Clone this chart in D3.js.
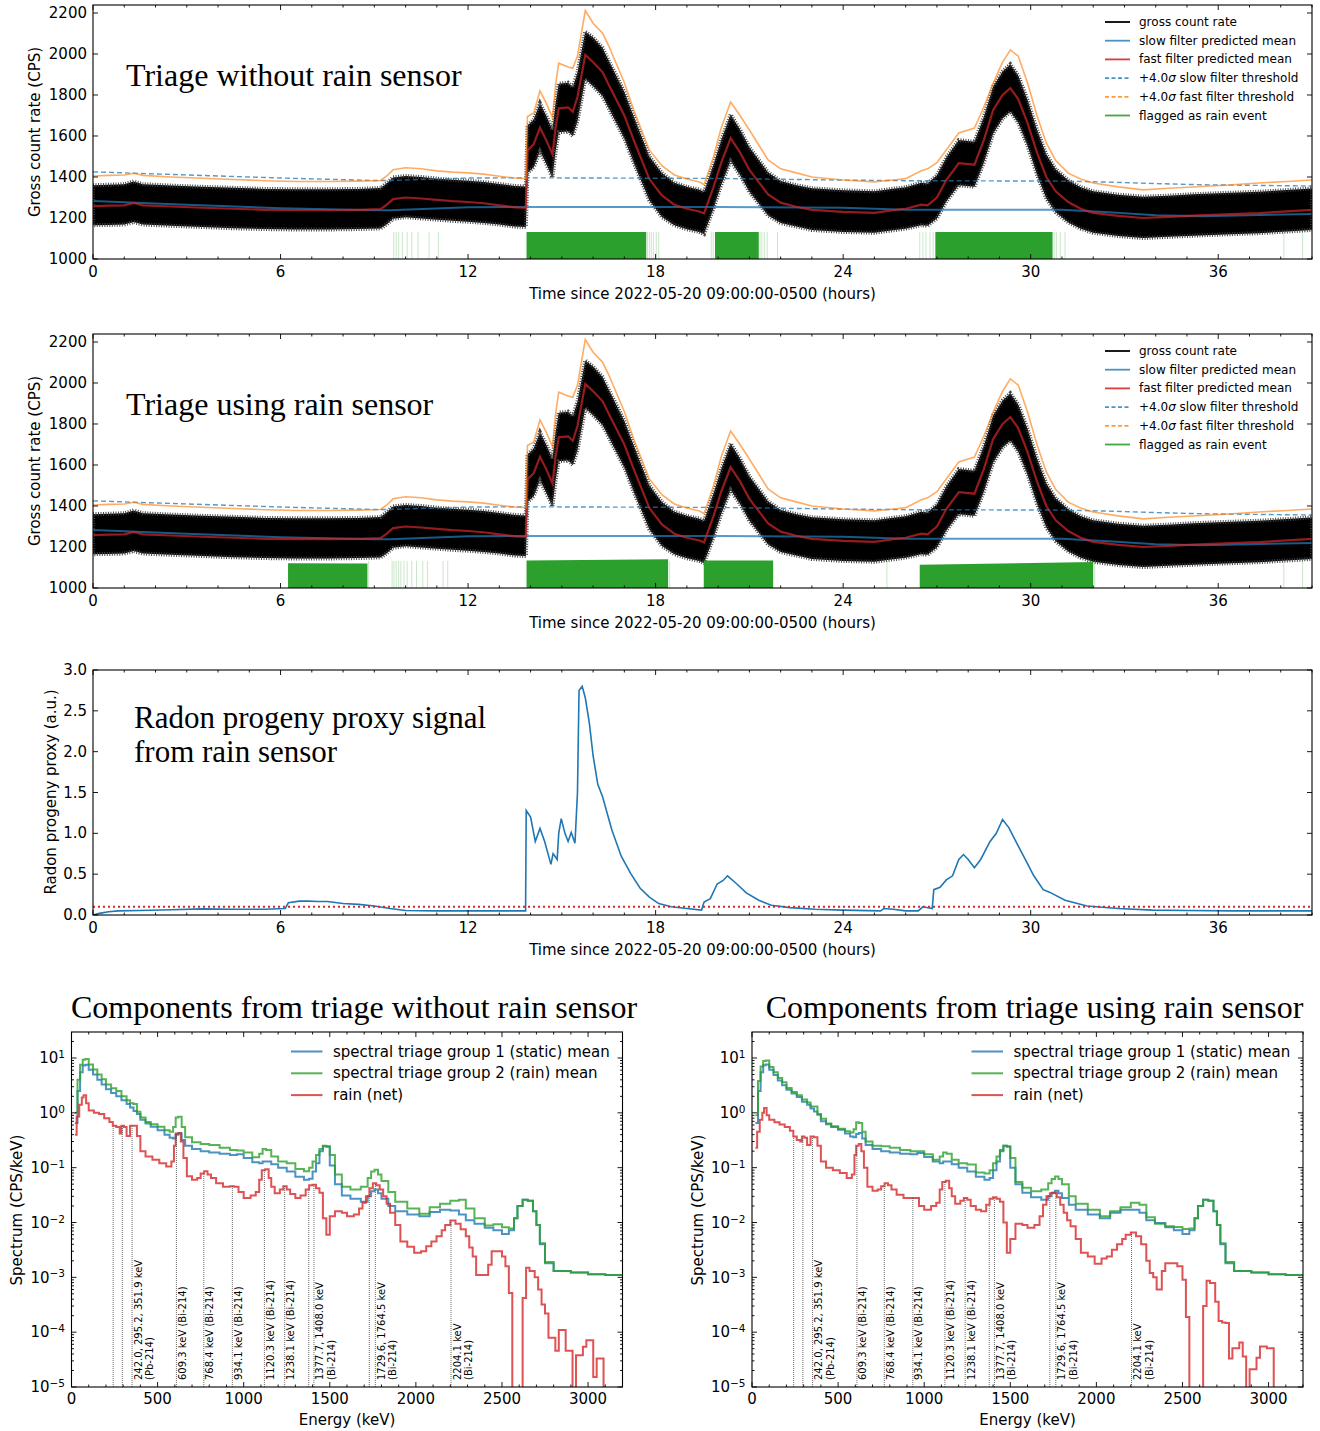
<!DOCTYPE html>
<html>
<head>
<meta charset="utf-8">
<script src="https://cdn.jsdelivr.net/npm/d3@7"></script>
<style>
  body { margin: 0; background: #fff; }
  text { font-family: "DejaVu Sans", sans-serif; fill: #000; }
  text.serif { font-family: "Liberation Serif", "Times New Roman", serif; }
</style>
</head>
<body>
<svg id="chart" width="1320" height="1431"></svg>
<script>
// ---------- time series (hours since 2022-05-20 09:00:00-0500) ----------
const tGrid = [
  0, 0.5, 1.0, 1.3, 1.6, 2.5, 3.5, 4.5, 5.5, 6.5,
  7.5, 8.5, 9.2, 9.4, 9.6, 10.0, 10.5, 11.0, 11.5, 12.0,
  12.5, 13.0, 13.5, 13.85, 13.9, 14.1, 14.3, 14.5, 14.7, 14.8,
  14.9, 15.2, 15.35, 15.5, 15.75, 16.0, 16.3, 16.5, 17.0, 17.3,
  17.8, 18.2, 18.6, 19.0, 19.4, 19.55, 19.85, 20.1, 20.4, 20.7,
  21.0, 21.6, 22.0, 22.5, 23.0, 24.0, 25.0, 25.6, 26.0, 26.5,
  26.7, 27.0, 27.3, 27.7, 28.2, 28.5, 28.8, 29.1, 29.35, 29.6,
  29.9, 30.2, 30.5, 30.8, 31.2, 31.6, 32.0, 32.8, 33.6, 34.4,
  35.2, 36.2, 37.3, 38.2, 39.0
];
const fastMean = [
  1258, 1260, 1262, 1274, 1262, 1256, 1250, 1245, 1240, 1238,
  1238, 1240, 1243, 1265, 1292, 1300, 1295, 1288, 1282, 1278,
  1272, 1262, 1252, 1250, 1530, 1560, 1640, 1580, 1510, 1640,
  1735, 1740, 1718, 1790, 1995, 1960, 1912, 1850, 1700, 1580,
  1390, 1310, 1265, 1245, 1232, 1222, 1350, 1470, 1590, 1520,
  1435, 1315, 1275, 1255, 1240, 1230, 1225, 1238, 1245, 1265,
  1262, 1300, 1385, 1468, 1460, 1580, 1727, 1800, 1834, 1780,
  1663, 1520, 1400, 1330, 1278, 1245, 1225, 1210, 1200, 1205,
  1212, 1218, 1224, 1232, 1240
];
const grossHi = [
  1360, 1362, 1365, 1378, 1365, 1358, 1352, 1347, 1342, 1340,
  1340, 1342, 1346, 1370, 1398, 1405, 1400, 1392, 1386, 1382,
  1375, 1366, 1356, 1354, 1650, 1680, 1760, 1700, 1630, 1760,
  1855, 1860, 1838, 1910, 2110, 2080, 2030, 1968, 1815, 1695,
  1500, 1420, 1372, 1352, 1338, 1328, 1460, 1580, 1705, 1632,
  1545, 1422, 1380, 1360, 1345, 1335, 1330, 1343, 1350, 1372,
  1368, 1408, 1495, 1580, 1572, 1693, 1842, 1915, 1950, 1895,
  1776, 1632, 1510, 1438, 1384, 1350, 1330, 1314, 1304, 1309,
  1316, 1322, 1328, 1336, 1344
];
const grossLo = [
  1165, 1166, 1168, 1180, 1168, 1162, 1156, 1150, 1146, 1144,
  1144, 1146, 1149, 1170, 1196, 1204, 1198, 1192, 1186, 1182,
  1176, 1168, 1158, 1156, 1420, 1448, 1525, 1465, 1398, 1525,
  1618, 1622, 1600, 1672, 1878, 1843, 1795, 1735, 1588, 1470,
  1285, 1205, 1165, 1145, 1132, 1122, 1245, 1362, 1478, 1410,
  1328, 1212, 1175, 1158, 1142, 1132, 1128, 1140, 1148, 1165,
  1162, 1198, 1280, 1360, 1352, 1470, 1612, 1685, 1718, 1665,
  1552, 1412, 1295, 1228, 1178, 1148, 1128, 1112, 1102, 1108,
  1114, 1120, 1126, 1134, 1142
];
const fastThresh = [
  1405, 1408, 1410, 1418, 1408, 1400, 1394, 1388, 1382, 1378,
  1378, 1380, 1383, 1405, 1435, 1445, 1440, 1430, 1424, 1420,
  1414, 1404, 1395, 1392, 1695, 1712, 1820, 1760, 1690, 1850,
  1955, 1937, 1930, 1990, 2212, 2150, 2102, 2040, 1860, 1727,
  1532, 1455, 1410, 1390, 1376, 1362, 1498, 1640, 1766, 1700,
  1629, 1483, 1440, 1420, 1400, 1385, 1376, 1385, 1392, 1430,
  1440, 1470, 1532, 1615, 1639, 1740, 1858, 1960, 2020, 1990,
  1858, 1700, 1566, 1480, 1419, 1390, 1371, 1352, 1337, 1345,
  1351, 1360, 1371, 1378, 1385
];
const tSlow = [0, 3, 6, 9, 9.5, 12, 13.9, 20, 24, 26, 31, 32.5, 34, 35.5, 39];
const slowMean = [1283, 1265, 1248, 1238, 1238, 1252, 1254, 1254, 1250, 1240, 1240, 1228, 1214, 1208, 1220];
const slowThresh = [1425, 1410, 1395, 1383, 1383, 1395, 1396, 1393, 1385, 1382, 1380, 1375, 1368, 1362, 1356];

// rain flags: [start h, end h, top CPS at start, top CPS at end]
const flagsWithout = [[13.87, 17.7, 1132, 1132], [19.9, 21.3, 1132, 1132], [26.95, 30.7, 1132, 1132]];
const faintWithout = [9.62, 9.7, 9.78, 9.9, 10.05, 10.2, 10.4, 10.75, 11.05, 17.74, 17.8, 17.86, 17.93,
  18.02, 18.1, 19.78, 19.84, 21.34, 21.4, 21.48, 21.57, 21.9, 26.45, 26.55, 26.65, 26.78, 26.88,
  30.75, 30.82, 30.95, 31.1, 38.1, 38.7];
const flagsUsing = [[6.24, 8.78, 1121, 1119], [13.87, 18.4, 1134, 1140], [19.54, 21.76, 1134, 1134], [26.45, 32.0, 1113, 1127]];
const faintUsing = [8.82, 9.57, 9.63, 9.7, 9.78, 9.85, 9.95, 10.05, 10.2, 10.35, 10.55, 10.7, 11.2, 11.35,
  18.45, 25.4, 32.05, 38.1, 38.7];

// radon progeny proxy
const tRadon = [
  0, 0.2, 0.5, 0.8, 1.5, 2.5, 3.5, 4.5, 5.5, 6.15,
  6.25, 6.6, 6.9, 7.2, 7.5, 8.0, 8.5, 9.0, 9.5, 10.0,
  11.0, 12.0, 13.0, 13.84, 13.86, 14.0, 14.15, 14.3, 14.45, 14.65,
  14.72, 14.78, 14.85, 14.9, 14.98, 15.1, 15.2, 15.3, 15.42, 15.5,
  15.55, 15.65, 15.75, 15.88, 16.0, 16.15, 16.3, 16.6, 16.9, 17.2,
  17.5, 17.8, 18.1, 18.5, 19.0, 19.47, 19.55, 19.75, 19.97, 20.15,
  20.3, 20.6, 20.9, 21.3, 21.7, 22.3, 23.1, 24.0, 25.2, 25.3,
  25.6, 26.0, 26.4, 26.55, 26.85, 26.9, 27.1, 27.3, 27.5, 27.7,
  27.85, 28.0, 28.2, 28.4, 28.7, 28.9, 29.1, 29.3, 29.5, 29.76,
  30.1, 30.4, 30.6, 31.1, 31.8, 32.8, 33.9, 35.0, 36.5, 38.0,
  39.0
];
const radon = [
  0.0, 0.02, 0.04, 0.05, 0.055, 0.065, 0.075, 0.07, 0.07, 0.08,
  0.15, 0.17, 0.17, 0.165, 0.165, 0.14, 0.13, 0.11, 0.08, 0.055,
  0.05, 0.05, 0.05, 0.05, 1.28, 1.2, 0.9, 1.06, 0.9, 0.62,
  0.75, 0.72, 0.68, 1.0, 1.18, 1.0, 0.9, 1.01, 0.88, 1.5,
  2.75, 2.8, 2.66, 2.35, 1.95, 1.6, 1.45, 1.04, 0.72, 0.51,
  0.33, 0.22, 0.14, 0.1, 0.08, 0.06, 0.16, 0.2, 0.38, 0.42,
  0.48, 0.38, 0.27, 0.18, 0.12, 0.09, 0.07, 0.06, 0.05, 0.08,
  0.07, 0.05, 0.05, 0.1, 0.08, 0.31, 0.34, 0.43, 0.48, 0.68,
  0.74, 0.68, 0.58, 0.68, 0.9, 1.0, 1.17, 1.07, 0.92, 0.73,
  0.48, 0.31, 0.28, 0.18, 0.11, 0.08, 0.06, 0.055, 0.05, 0.05,
  0.05
];
const radonThreshold = 0.1;

const hourTicks = [0, 6, 12, 18, 24, 30, 36];
const countTicks = [1000, 1200, 1400, 1600, 1800, 2000, 2200];
const proxyTicks = [0, 0.5, 1.0, 1.5, 2.0, 2.5, 3.0];

// ---------- spectra (CPS/keV), step bins starting at the listed energy ----------
const eGroup = [
  20, 35, 50, 65, 80, 100, 125, 150, 175, 200,
  230, 260, 290, 320, 340, 360, 380, 400, 430, 460,
  500, 540, 570, 590, 605, 620, 640, 660, 700, 750,
  800, 860, 920, 960, 1000, 1050, 1090, 1110, 1130, 1160,
  1200, 1250, 1300, 1350, 1380, 1400, 1420, 1440, 1460, 1480,
  1500, 1530, 1570, 1620, 1680, 1720, 1740, 1760, 1780, 1800,
  1840, 1880, 1950, 2020, 2080, 2140, 2200, 2250, 2290, 2340,
  2400, 2450, 2500, 2540, 2570, 2590, 2620, 2650, 2680, 2700,
  2720, 2750, 2800, 2900, 3000, 3100, 3200
];
const group1Without = [
  0.65, 2.5, 5.5, 7.3, 7.5, 6.1, 5.0, 4.0, 3.3, 2.7,
  2.3, 2.0, 1.7, 1.45, 1.25, 1.08, 0.95, 0.75, 0.64, 0.56,
  0.48, 0.40, 0.35, 0.34, 0.40, 0.42, 0.32, 0.25, 0.22, 0.20,
  0.19, 0.18, 0.17, 0.175, 0.15, 0.125, 0.12, 0.13, 0.13, 0.115,
  0.10, 0.085, 0.068, 0.060, 0.063, 0.085, 0.12, 0.20, 0.245, 0.24,
  0.11, 0.05, 0.031, 0.027, 0.024, 0.030, 0.037, 0.040, 0.034, 0.027,
  0.020, 0.016, 0.014, 0.013, 0.0155, 0.017, 0.0165, 0.014, 0.011, 0.0095,
  0.008, 0.0072, 0.0062, 0.0072, 0.012, 0.020, 0.026, 0.025, 0.016, 0.009,
  0.004, 0.0018, 0.0013, 0.00122, 0.00114, 0.0011, 0.00107
];
const group2Without = [
  1.0, 4.0, 7.5, 9.3, 9.6, 7.6, 6.2, 5.0, 4.1, 3.3,
  2.8, 2.5, 2.0, 1.7, 1.5, 1.45, 1.05, 0.82, 0.68, 0.62,
  0.56, 0.48, 0.45, 0.55, 0.82, 0.85, 0.55, 0.36, 0.29, 0.27,
  0.26, 0.23, 0.21, 0.205, 0.19, 0.155, 0.18, 0.22, 0.21, 0.16,
  0.13, 0.12, 0.095, 0.086, 0.10, 0.13, 0.17, 0.22, 0.25, 0.245,
  0.17, 0.075, 0.045, 0.040, 0.045, 0.065, 0.085, 0.092, 0.075, 0.057,
  0.036, 0.024, 0.018, 0.0145, 0.019, 0.022, 0.025, 0.026, 0.018, 0.012,
  0.0088, 0.0093, 0.0082, 0.0078, 0.012, 0.020, 0.026, 0.025, 0.016, 0.009,
  0.0042, 0.0019, 0.0013, 0.00122, 0.00114, 0.0011, 0.00107
];
const group1Using = [
  0.65, 2.5, 5.5, 7.4, 7.6, 6.1, 4.9, 3.9, 3.2, 2.65,
  2.25, 1.95, 1.6, 1.4, 1.2, 1.06, 0.92, 0.70, 0.62, 0.55,
  0.49, 0.42, 0.37, 0.36, 0.41, 0.43, 0.34, 0.26, 0.22, 0.20,
  0.19, 0.18, 0.175, 0.185, 0.157, 0.13, 0.12, 0.13, 0.13, 0.115,
  0.10, 0.085, 0.068, 0.060, 0.065, 0.09, 0.13, 0.20, 0.25, 0.24,
  0.10, 0.05, 0.035, 0.029, 0.026, 0.030, 0.035, 0.038, 0.034, 0.028,
  0.021, 0.017, 0.014, 0.012, 0.015, 0.017, 0.017, 0.015, 0.011, 0.0098,
  0.0082, 0.0072, 0.0062, 0.0072, 0.012, 0.020, 0.026, 0.025, 0.016, 0.009,
  0.004, 0.0018, 0.0013, 0.00122, 0.00114, 0.0011, 0.00107
];
const group2Using = [
  0.9, 3.8, 7.0, 8.8, 9.0, 6.85, 5.5, 4.3, 3.6, 2.85,
  2.4, 2.1, 1.75, 1.55, 1.3, 1.3, 0.95, 0.78, 0.64, 0.57,
  0.51, 0.46, 0.44, 0.50, 0.67, 0.65, 0.45, 0.30, 0.25, 0.245,
  0.23, 0.21, 0.20, 0.20, 0.175, 0.14, 0.16, 0.19, 0.18, 0.14,
  0.12, 0.114, 0.082, 0.078, 0.09, 0.12, 0.16, 0.21, 0.25, 0.245,
  0.15, 0.055, 0.043, 0.037, 0.040, 0.052, 0.062, 0.069, 0.062, 0.050,
  0.030, 0.022, 0.017, 0.013, 0.016, 0.019, 0.023, 0.021, 0.0125, 0.0095,
  0.0085, 0.0083, 0.0076, 0.0078, 0.012, 0.020, 0.026, 0.025, 0.016, 0.009,
  0.0042, 0.0019, 0.0013, 0.00122, 0.00114, 0.0011, 0.00107
];
const eRain = [
  20, 30, 45, 60, 70, 85, 100, 130, 160, 190,
  220, 240, 260, 280, 290, 305, 320, 340, 360, 380,
  400, 430, 470, 510, 550, 580, 595, 605, 620, 635,
  650, 670, 700, 730, 750, 770, 790, 810, 840, 880,
  920, 945, 970, 1000, 1040, 1070, 1090, 1105, 1125, 1145,
  1160, 1180, 1210, 1230, 1250, 1270, 1300, 1330, 1360, 1380,
  1400, 1420, 1440, 1460, 1480, 1500, 1530, 1570, 1600, 1640,
  1670, 1690, 1710, 1730, 1750, 1770, 1790, 1810, 1830, 1850,
  1880, 1910, 1950, 1990, 2030, 2060, 2090, 2120, 2150, 2170,
  2200, 2230, 2260, 2290, 2310, 2330, 2350, 2380, 2400, 2420,
  2440, 2470, 2500, 2520, 2540, 2560, 2600, 2620, 2640, 2660,
  2690, 2710, 2730, 2750, 2770, 2790, 2810, 2830, 2850, 2870,
  2890, 2910, 2930, 2950, 2970, 2990, 3010, 3030, 3050, 3070,
  3090, 3200
];
const rainWithout = [
  0.40, 0.86, 1.4, 1.9, 2.1, 1.5, 1.1, 1.0, 0.95, 0.8,
  0.68, 0.58, 0.55, 0.42, 0.58, 0.55, 0.38, 0.58, 0.58, 0.38,
  0.20, 0.16, 0.14, 0.12, 0.105, 0.13, 0.25, 0.42, 0.43, 0.30,
  0.15, 0.07, 0.06, 0.065, 0.078, 0.086, 0.075, 0.065, 0.052, 0.045,
  0.046, 0.045, 0.036, 0.028, 0.031, 0.036, 0.06, 0.09, 0.094, 0.065,
  0.045, 0.034, 0.04, 0.046, 0.04, 0.033, 0.028, 0.031, 0.040, 0.048,
  0.049, 0.042, 0.035, 0.012, 0.006, 0.013, 0.016, 0.015, 0.013, 0.014,
  0.018, 0.023, 0.030, 0.042, 0.052, 0.048, 0.040, 0.030, 0.022, 0.015,
  0.009, 0.0045, 0.0036, 0.0028, 0.0030, 0.0037, 0.0045, 0.0056, 0.0072, 0.0090,
  0.0109, 0.0095, 0.0075, 0.0056, 0.0035, 0.0024, 0.0011, 0.0011, 0.0011, 0.0017,
  0.0030, 0.0030, 0.0024, 0.0016, 0.00052, 0, 0, 0.00042, 0.0015, 0.0013,
  0.0010, 0.0006, 0.00032, 0.00022, 0.000079, 0.000079, 0.000046, 0.00011, 0.00011, 0.000046,
  0.000046, 0, 0.000038, 0.000038, 0.000054, 0.000071, 0.000071, 0.0000152, 0.000033, 0.000033,
  0, 0
];
const rainUsing = [
  0.23, 0.45, 0.75, 1.0, 1.22, 0.9, 0.75, 0.67, 0.61, 0.55,
  0.47, 0.37, 0.32, 0.30, 0.37, 0.35, 0.26, 0.37, 0.36, 0.25,
  0.13, 0.10, 0.09, 0.08, 0.065, 0.075, 0.17, 0.25, 0.27, 0.20,
  0.10, 0.045, 0.038, 0.040, 0.046, 0.052, 0.048, 0.040, 0.032, 0.028,
  0.028, 0.028, 0.020, 0.017, 0.020, 0.023, 0.040, 0.055, 0.058, 0.042,
  0.030, 0.022, 0.025, 0.028, 0.026, 0.020, 0.017, 0.016, 0.021, 0.027,
  0.029, 0.027, 0.024, 0.010, 0.0028, 0.0050, 0.0095, 0.0090, 0.0080, 0.0090,
  0.013, 0.021, 0.030, 0.034, 0.035, 0.029, 0.021, 0.015, 0.011, 0.0085,
  0.0050, 0.0028, 0.0024, 0.00176, 0.0022, 0.0024, 0.0032, 0.0040, 0.0050, 0.0060,
  0.0066, 0.0056, 0.0040, 0.0020, 0.0012, 0.0010, 0.0006, 0.0013, 0.0018, 0.0018,
  0.0018, 0.0016, 0.0009, 0.00019, 0, 0, 0, 0.0003, 0.00087, 0.00079,
  0.00036, 0.00016, 0.00015, 0.000147, 0.000033, 0.000051, 0.000051, 0.000065, 0.000036, 0,
  0.000021, 0.000021, 0.000034, 0.000055, 0.000055, 0.000051, 0.000051, 0, 0, 0,
  0, 0
];
const lineEnergies = [242.0, 295.2, 351.9, 609.3, 768.4, 934.1, 1120.3, 1238.1, 1377.7, 1408.0, 1729.6, 1764.5, 2204.1];
const lineLabels = [
  [351.9, "242.0, 295.2, 351.9 keV", "(Pb-214)"],
  [609.3, "609.3 keV (Bi-214)"],
  [768.4, "768.4 keV (Bi-214)"],
  [934.1, "934.1 keV (Bi-214)"],
  [1120.3, "1120.3 keV (Bi-214)"],
  [1238.1, "1238.1 keV (Bi-214)"],
  [1408.0, "1377.7, 1408.0 keV", "(Bi-214)"],
  [1764.5, "1729.6, 1764.5 keV", "(Bi-214)"],
  [2204.1, "2204.1 keV", "(Bi-214)"]
];
const energyTicks = [0, 500, 1000, 1500, 2000, 2500, 3000];
const decades = [-5, -4, -3, -2, -1, 0, 1];

// ---------- drawing ----------
const svg = d3.select("#chart");
const BLUE = "#1f77b4", RED = "#d62728", ORANGE = "#ff7f0e", GREEN = "#2ca02c";

function frame(xs, ys, xMajor, xMinor, yMajor, yMinor) {
  const [xl, xr] = xs.range();
  const [yb, yt] = ys.range();
  const g = svg.append("g").attr("stroke", "#000").attr("stroke-width", 0.9);
  const tick = (x1, y1, x2, y2) => g.append("line")
    .attr("x1", x1).attr("y1", y1).attr("x2", x2).attr("y2", y2);
  xMajor.forEach(v => { tick(xs(v), yb, xs(v), yb - 5); tick(xs(v), yt, xs(v), yt + 5); });
  xMinor.forEach(v => { tick(xs(v), yb, xs(v), yb - 2.5); tick(xs(v), yt, xs(v), yt + 2.5); });
  yMajor.forEach(v => { tick(xl, ys(v), xl + 5, ys(v)); tick(xr, ys(v), xr - 5, ys(v)); });
  yMinor.forEach(v => { tick(xl, ys(v), xl + 2.5, ys(v)); tick(xr, ys(v), xr - 2.5, ys(v)); });
  svg.append("rect")
    .attr("x", xl).attr("y", yt).attr("width", xr - xl).attr("height", yb - yt)
    .attr("fill", "none").attr("stroke", "#000").attr("stroke-width", 1.1);
}

function label(x, y, str, size, anchor = "middle", rotate = false) {
  return svg.append("text")
    .attr("transform", `translate(${x},${y})` + (rotate ? " rotate(-90)" : ""))
    .attr("text-anchor", anchor)
    .attr("dominant-baseline", "central")
    .attr("font-size", size)
    .text(str);
}

function clip(id, x, y, w, h) {
  svg.append("clipPath").attr("id", id)
    .append("rect").attr("x", x).attr("y", y).attr("width", w).attr("height", h);
  return svg.append("g").attr("clip-path", `url(#${id})`);
}

const xTime = d3.scaleLinear().domain([0, 39]).range([93, 1312]);
const hourMinor = d3.range(0, 40).filter(h => h % 6 !== 0);

function timeAxisText(yBottom) {
  hourTicks.forEach(h => label(xTime(h), yBottom + 13, String(h), 15));
  label((93 + 1312) / 2, yBottom + 35, "Time since 2022-05-20 09:00:00-0500 (hours)", 15);
}

// ---- panels 1 & 2: gross count rate ----
const countPanels = [
  { top: 5, bottom: 259, title: "Triage without rain sensor", flags: flagsWithout, faint: faintWithout },
  { top: 334, bottom: 588, title: "Triage using rain sensor", flags: flagsUsing, faint: faintUsing }
];

const legendTop = [
  { text: "gross count rate", color: "#000", dash: null, op: 1 },
  { text: "slow filter predicted mean", color: BLUE, dash: null, op: 0.8 },
  { text: "fast filter predicted mean", color: RED, dash: null, op: 0.9 },
  { text: "slow filter threshold", sig: true, color: BLUE, dash: "4,2.5", op: 0.8 },
  { text: "fast filter threshold", sig: true, color: ORANGE, dash: "4,2.5", op: 0.8 },
  { text: "flagged as rain event", color: GREEN, dash: null, op: 0.9 }
];

countPanels.forEach((p, k) => {
  const y = d3.scaleLinear().domain([1000, 2239]).range([p.bottom, p.top]);
  const g = clip("clipCount" + k, 93, p.top, 1312 - 93, p.bottom - p.top);

  const rows = tGrid.map((t, i) => ({ t, hi: grossHi[i], lo: grossLo[i], fm: fastMean[i], ft: fastThresh[i] }));
  const slow = tSlow.map((t, i) => ({ t, m: slowMean[i], th: slowThresh[i] }));

  // gross count rate: dense noise band with a ragged grey fringe
  g.append("path").datum(rows)
    .attr("d", d3.area().x(d => xTime(d.t)).y0(d => y(d.lo)).y1(d => y(d.hi)))
    .attr("fill", "#000").attr("stroke", "#444").attr("stroke-width", 4).attr("stroke-dasharray", "1,1.5");

  g.append("path").datum(slow)
    .attr("d", d3.line().x(d => xTime(d.t)).y(d => y(d.m)))
    .attr("fill", "none").attr("stroke", BLUE).attr("stroke-opacity", 0.75).attr("stroke-width", 2);

  g.append("path").datum(rows)
    .attr("d", d3.line().x(d => xTime(d.t)).y(d => y(d.fm)))
    .attr("fill", "none").attr("stroke", RED).attr("stroke-opacity", 0.7).attr("stroke-width", 2.2);

  g.append("path").datum(slow)
    .attr("d", d3.line().x(d => xTime(d.t)).y(d => y(d.th)))
    .attr("fill", "none").attr("stroke", BLUE).attr("stroke-opacity", 0.75)
    .attr("stroke-width", 1.4).attr("stroke-dasharray", "5,3");

  g.append("path").datum(rows)
    .attr("d", d3.line().x(d => xTime(d.t)).y(d => y(d.ft)))
    .attr("fill", "none").attr("stroke", ORANGE).attr("stroke-opacity", 0.65).attr("stroke-width", 1.6);

  // rain flags
  p.faint.forEach(t => {
    g.append("line").attr("x1", xTime(t)).attr("x2", xTime(t))
      .attr("y1", y(1000)).attr("y2", y(1132))
      .attr("stroke", GREEN).attr("stroke-opacity", 0.25).attr("stroke-width", 1);
  });
  p.flags.forEach(f => {
    g.append("path").datum([{ t: f[0], v: f[2] }, { t: f[1], v: f[3] }])
      .attr("d", d3.area().x(d => xTime(d.t)).y0(y(1000)).y1(d => y(d.v)))
      .attr("fill", GREEN);
  });

  frame(xTime, y, hourTicks, hourMinor, countTicks, []);
  countTicks.forEach(v => label(87, y(v), String(v), 15, "end"));
  timeAxisText(p.bottom);
  label(35, (p.top + p.bottom) / 2, "Gross count rate (CPS)", 15, "middle", true);

  svg.append("text").attr("class", "serif").attr("x", 126).attr("y", p.top + 81)
    .attr("font-size", 32).text(p.title);

  // legend
  legendTop.forEach((e, i) => {
    const ly = p.top + 17 + i * 18.7;
    svg.append("line").attr("x1", 1105).attr("x2", 1130).attr("y1", ly).attr("y2", ly)
      .attr("stroke", e.color).attr("stroke-opacity", e.op).attr("stroke-width", 1.8)
      .attr("stroke-dasharray", e.dash);
    const t = svg.append("text").attr("x", 1139).attr("y", ly)
      .attr("dominant-baseline", "central").attr("font-size", 12);
    if (e.sig) {
      t.append("tspan").text("+4.0");
      t.append("tspan").attr("font-style", "italic").text("σ");
      t.append("tspan").text(" " + e.text);
    } else {
      t.text(e.text);
    }
  });
});

// ---- panel 3: radon progeny proxy ----
{
  const y = d3.scaleLinear().domain([0, 3]).range([915, 670]);
  const g = clip("clipRadon", 93, 670, 1312 - 93, 245);
  g.append("path").datum(tRadon.map((t, i) => ({ t, v: radon[i] })))
    .attr("d", d3.line().x(d => xTime(d.t)).y(d => y(d.v)))
    .attr("fill", "none").attr("stroke", BLUE).attr("stroke-width", 1.6);
  g.append("line").attr("x1", xTime(0)).attr("x2", xTime(39))
    .attr("y1", y(radonThreshold)).attr("y2", y(radonThreshold))
    .attr("stroke", RED).attr("stroke-width", 2).attr("stroke-dasharray", "2,3");
  frame(xTime, y, hourTicks, hourMinor, proxyTicks, []);
  proxyTicks.forEach(v => label(87, y(v), v.toFixed(1), 15, "end"));
  timeAxisText(915);
  label(51, 792, "Radon progeny proxy (a.u.)", 15, "middle", true);
  const tt = svg.append("text").attr("class", "serif").attr("font-size", 31);
  tt.append("tspan").attr("x", 134).attr("y", 728).text("Radon progeny proxy signal");
  tt.append("tspan").attr("x", 134).attr("y", 762).text("from rain sensor");
}

// ---- panels 4 & 5: spectra ----
const specPanels = [
  { x0: 71.5, x1: 622.5, title: "Components from triage without rain sensor", g1: group1Without, g2: group2Without, rain: rainWithout },
  { x0: 752, x1: 1303, title: "Components from triage using rain sensor", g1: group1Using, g2: group2Using, rain: rainUsing }
];
const specLegend = [
  { text: "spectral triage group 1 (static) mean", color: BLUE },
  { text: "spectral triage group 2 (rain) mean", color: GREEN },
  { text: "rain (net)", color: RED }
];

specPanels.forEach((p, k) => {
  const x = d3.scaleLinear().domain([0, 3200]).range([p.x0, p.x1]);
  const y = d3.scaleLog().domain([1e-5, 29.8]).range([1387, 1032]);
  const g = clip("clipSpec" + k, p.x0, 1032, p.x1 - p.x0, 355);
  const yv = v => v > 0 ? y(v) : 1400;
  const step = d3.line().curve(d3.curveStepAfter).x(d => x(d.e)).y(d => yv(d.v));

  const series = [
    { e: eGroup, v: p.g1, color: BLUE },
    { e: eGroup, v: p.g2, color: GREEN },
    { e: eRain, v: p.rain, color: RED }
  ];
  series.forEach(s => {
    g.append("path").datum(s.e.map((e, i) => ({ e, v: s.v[i] })))
      .attr("d", step).attr("fill", "none")
      .attr("stroke", s.color).attr("stroke-opacity", 0.8).attr("stroke-width", 2);
  });

  // gamma line markers up to the rain curve
  lineEnergies.forEach(e => {
    const v = p.rain[d3.bisectRight(eRain, e) - 1];
    svg.append("line").attr("x1", x(e)).attr("x2", x(e))
      .attr("y1", 1387).attr("y2", yv(v))
      .attr("stroke", "#444").attr("stroke-width", 0.8).attr("stroke-dasharray", "1,1");
  });
  lineLabels.forEach(l => {
    const t = svg.append("text")
      .attr("transform", `translate(${x(l[0]) + 9.5},1380) rotate(-90)`)
      .attr("font-size", 10);
    t.append("tspan").attr("x", 0).attr("dy", 0).text(l[1]);
    if (l[2]) t.append("tspan").attr("x", 0).attr("dy", 11.5).text(l[2]);
  });

  const eMinor = d3.range(0, 3201, 100).filter(e => e % 500 !== 0);
  const yMinor = [];
  decades.forEach(d => d3.range(2, 10).forEach(m => { const v = m * Math.pow(10, d); if (v < 29.8) yMinor.push(v); }));
  frame(x, y, energyTicks, eMinor, decades.map(d => Math.pow(10, d)), yMinor);

  energyTicks.forEach(e => label(x(e), 1399, String(e), 15));
  decades.forEach(d => {
    const t = svg.append("text").attr("x", p.x0 - 6.5).attr("y", y(Math.pow(10, d)))
      .attr("dy", "0.35em").attr("text-anchor", "end").attr("font-size", 15);
    t.append("tspan").text("10");
    t.append("tspan").attr("dy", "-0.5em").attr("font-size", 10.5).text(d < 0 ? "\u2212" + (-d) : String(d));
  });
  label((p.x0 + p.x1) / 2, 1420, "Energy (keV)", 15);
  label(p.x0 - 54.5, 1210, "Spectrum (CPS/keV)", 15, "middle", true);

  svg.append("text").attr("class", "serif").attr("x", (p.x0 + p.x1) / 2 + 7).attr("y", 1018)
    .attr("text-anchor", "middle").attr("font-size", 32).text(p.title);

  specLegend.forEach((e, i) => {
    const ly = 1051.5 + i * 21.8;
    svg.append("line").attr("x1", p.x0 + 219.5).attr("x2", p.x0 + 251).attr("y1", ly).attr("y2", ly)
      .attr("stroke", e.color).attr("stroke-opacity", 0.8).attr("stroke-width", 2);
    label(p.x0 + 261.5, ly, e.text, 15, "start");
  });
});
</script>
</body>
</html>
